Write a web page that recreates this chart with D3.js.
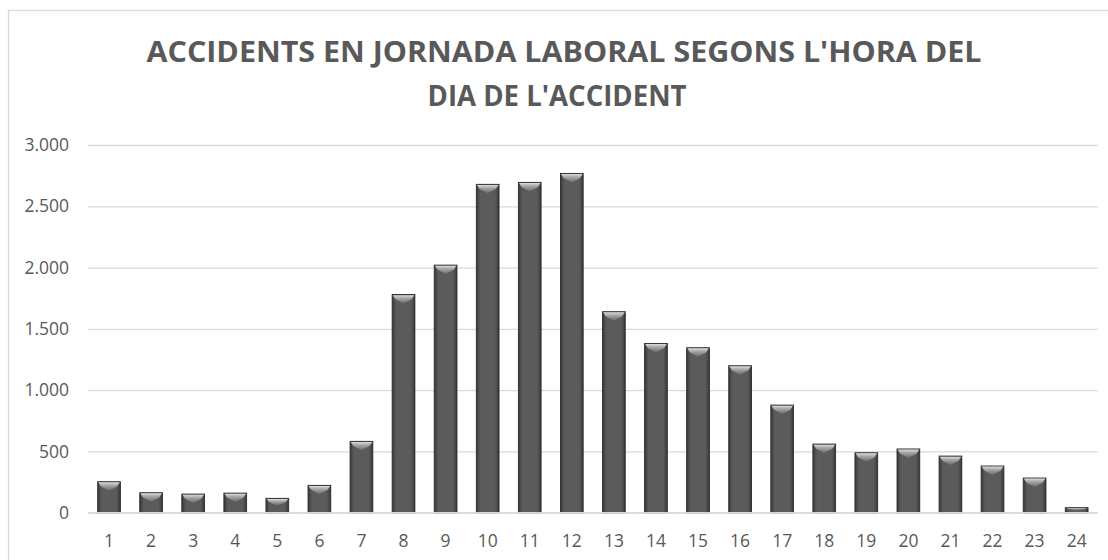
<!DOCTYPE html>
<html>
<head>
<meta charset="utf-8">
<script src="https://cdn.jsdelivr.net/npm/d3@7"></script>
<style>
  html, body { margin: 0; padding: 0; background: #ffffff; }
  svg { display: block; }
</style>
</head>
<body>
<div id="chart"></div>
<script>
const titleLines = ["ACCIDENTS EN JORNADA LABORAL SEGONS L'HORA DEL", "DIA DE L'ACCIDENT"];
const hours = ["1","2","3","4","5","6","7","8","9","10","11","12","13","14","15","16","17","18","19","20","21","22","23","24"];
const accidents = [253, 163, 152, 160, 117, 223, 582, 1780, 2020, 2679, 2695, 2768, 1640, 1381, 1346, 1199, 878, 560, 489, 520, 462, 381, 283, 41];
const yTicks = [0, 500, 1000, 1500, 2000, 2500, 3000];
const yTickLabels = ["0", "500", "1.000", "1.500", "2.000", "2.500", "3.000"];

const W = 1108, H = 560;
const plot = { left: 88, right: 1097.7, top: 145, bottom: 512.7 };
const textColor = "#595959";
const gridColor = "#d9d9d9";
const font = "'Open Sans', 'Liberation Sans', sans-serif";

const svg = d3.select("#chart").append("svg")
  .attr("width", W).attr("height", H);

const defs = svg.append("defs");
const sideGrad = defs.append("linearGradient").attr("id", "barSide")
  .attr("x1", "0").attr("x2", "1").attr("y1", "0").attr("y2", "0");
[["0%", "#333333"], ["8%", "#4a4a4a"], ["18%", "#5b5b5b"], ["82%", "#5b5b5b"], ["92%", "#4a4a4a"], ["100%", "#333333"]]
  .forEach(([o, c]) => sideGrad.append("stop").attr("offset", o).attr("stop-color", c));
const topGrad = defs.append("linearGradient").attr("id", "barTop")
  .attr("x1", "0").attr("x2", "0").attr("y1", "0").attr("y2", "1");
[["0%", "#dcdcdc"], ["35%", "#a8a8a8"], ["100%", "#6a6a6a"]]
  .forEach(([o, c]) => topGrad.append("stop").attr("offset", o).attr("stop-color", c));

// chart border
svg.append("rect")
  .attr("x", 8.5).attr("y", 10.5).attr("width", 1200).attr("height", 600)
  .attr("fill", "none").attr("stroke", gridColor).attr("stroke-width", 1.3);

// title
const titleCenters = [564, 557];
const titleWidths = [835, 259];
const titleBaselines = [62, 106];
titleLines.forEach((t, i) => {
  svg.append("text")
    .attr("x", titleCenters[i]).attr("y", titleBaselines[i])
    .attr("text-anchor", "middle")
    .attr("font-family", font).attr("font-weight", "bold")
    .attr("font-size", 28.5).attr("fill", textColor)
    .attr("textLength", titleWidths[i]).attr("lengthAdjust", "spacingAndGlyphs")
    .text(t);
});

const x = d3.scaleBand().domain(hours).range([plot.left, plot.right]).paddingInner(0.46).paddingOuter(0.23);
const y = d3.scaleLinear().domain([0, 3000]).range([plot.bottom, plot.top]);

// gridlines
const yAxis = d3.axisLeft(y).tickValues(yTicks).tickSize(-(plot.right - plot.left))
  .tickFormat((d, i) => yTickLabels[i]).tickPadding(19);
const gy = svg.append("g").attr("transform", `translate(${plot.left},0)`).call(yAxis);
gy.select(".domain").remove();
gy.selectAll(".tick line").attr("stroke", gridColor).attr("stroke-width", 1.3);
gy.selectAll(".tick text").attr("fill", textColor).attr("font-family", font).attr("font-size", 17.5);

// bars
const bars = svg.append("g").selectAll("g").data(accidents).join("g");
bars.append("rect")
  .attr("x", (d, i) => x(hours[i]))
  .attr("y", d => y(d))
  .attr("width", x.bandwidth())
  .attr("height", d => y(0) - y(d))
  .attr("fill", "url(#barSide)")
  .attr("stroke", "#2c2c2c").attr("stroke-width", 0.9);
bars.append("polygon")
  .attr("points", (d, i) => {
    const x0 = x(hours[i]), w = x.bandwidth(), t = y(d);
    const b = Math.min(9, (y(0) - t) / 2);
    return [[x0 + 0.6, t + 0.6], [x0 + w - 0.6, t + 0.6], [x0 + w - 3, t + b * 0.5], [x0 + w / 2, t + b], [x0 + 3, t + b * 0.5]]
      .map(p => p.join(",")).join(" ");
  })
  .attr("fill", "url(#barTop)");

// x axis
const xAxis = d3.axisBottom(x).tickSize(0).tickPadding(22);
const gx = svg.append("g").attr("transform", `translate(0,${plot.bottom})`).call(xAxis);
gx.select(".domain").attr("stroke", gridColor).attr("stroke-width", 1.3)
  .attr("d", `M${plot.left},0H${plot.right}`);
gx.selectAll(".tick text").attr("fill", textColor).attr("font-family", font).attr("font-size", 17.5);
</script>
</body>
</html>
